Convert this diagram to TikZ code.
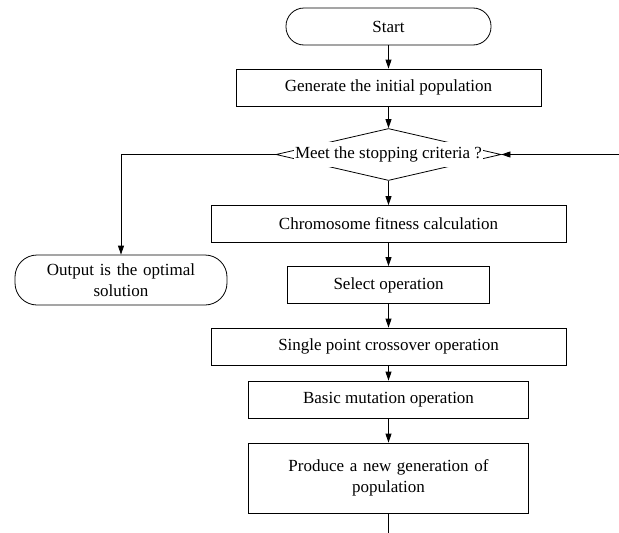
\documentclass[tikz,border=0pt]{standalone}
\usepackage{fontspec}
\setmainfont{Liberation Serif}
\usetikzlibrary{shapes.geometric,arrows.meta}
\begin{document}
\begin{tikzpicture}[x=1pt,y=-1pt,
  every node/.style={font=\rmfamily\fontsize{17}{21}\selectfont},
  box/.style={draw, line width=0.8pt, inner sep=0pt, align=center},
  term/.style={box, rounded corners=#1},
  arr/.style={-{Triangle[length=9pt,width=6pt]}, line width=0.8pt},
  ln/.style={line width=0.8pt}]
\useasboundingbox (0,0) rectangle (619,533);

\node[term=18pt, minimum width=205pt, minimum height=37pt] (start) at (388.5,26.5) {Start};
\node[box, minimum width=305pt, minimum height=37pt] (gen) at (388.5,87.5) {Generate the initial population};
\node[diamond, draw, line width=0.8pt, minimum width=225pt, minimum height=52pt, inner sep=0pt] (dia) at (388.5,154.5) {};
\node[fill=white, inner xsep=1pt, inner ysep=5pt] (diat) at (dia.center) {Meet the stopping criteria ?};
\node[term=22pt, minimum width=212pt, minimum height=50pt, text width=200pt] (out) at (121,280) {Output is the optimal\\solution};
\node[box, minimum width=355pt, minimum height=37pt] (fit) at (388.5,224) {Chromosome fitness calculation};
\node[box, minimum width=202pt, minimum height=37pt] (sel) at (388.5,285) {Select operation};
\node[box, minimum width=355pt, minimum height=37pt] (cross) at (388.5,346.5) {Single point crossover operation};
\node[box, minimum width=280pt, minimum height=37pt] (mut) at (388.5,399.5) {Basic mutation operation};
\node[box, minimum width=280pt, minimum height=70pt, text width=270pt] (prod) at (388.5,478) {Produce a new generation of\\population};

\coordinate (lcorner) at (121,154.5);
\coordinate (rend) at (619,154.5);
\coordinate (bend) at (388.5,533);

\draw[arr] (start) -- (gen);
\draw[arr] (gen) -- (dia);
\draw[arr] (dia) -- (fit);
\draw[arr] (fit) -- (sel);
\draw[arr] (sel) -- (cross);
\draw[arr] (cross) -- (mut);
\draw[arr] (mut) -- (prod);
\draw[ln] (prod) -- (bend);
\draw[arr] (dia.west) -- (lcorner) -- (out.north);
\draw[arr] (rend) -- (dia.east);
\end{tikzpicture}
\end{document}
